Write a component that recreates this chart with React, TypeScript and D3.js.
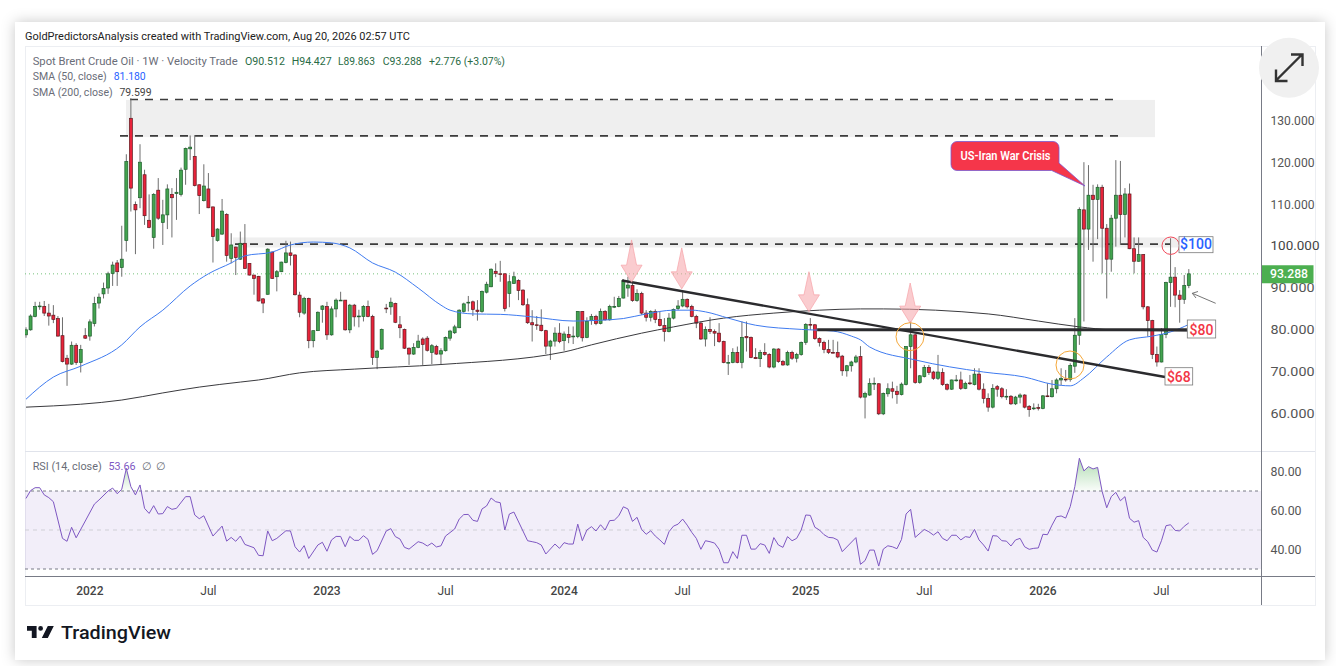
import React, { useEffect, useRef } from "react";
import * as d3 from "d3";

// weekly candles, one value per week
const opens = [
  78.7,79.9,83.1,85.5,85.5,83.9,83.4,82.6,78.5,73.1,
  71.7,76.2,72.1,78.5,78.4,81.4,86.3,88.5,89.9,93.4,
  95.9,94.8,101.25,130.5,109.9,111.5,117,106.1,102,113.3,
  105.6,107.4,112.3,112.5,112.3,118.3,123.2,121.4,114.6,110.8,
  113.6,109.3,101.3,102.8,107.5,97,99.7,96.8,100.6,95.8,
  93,92.7,87.3,88.4,98.5,92.6,93.8,96,98.3,97.8,
  88.2,83.9,87.4,77.3,79.7,84.8,85.5,78.7,84.9,87,
  87,79.9,85.8,83.1,83.1,85.5,83.1,73.3,75.3,85.1,
  85.4,86.2,81.1,80,75.5,74.1,75.7,77.7,77.9,74.5,
  75.9,74.1,74.9,77.9,79.2,80.4,84.3,86.5,86.6,84.6,
  84.3,88.9,90.2,93.9,93.3,93.3,88.6,91,91.7,89.4,
  85.9,81.6,81.1,81,79.7,76,77.2,79.1,77.3,78.8,
  78.3,78.3,84.3,78.1,82.1,83.1,81.4,84.3,82.3,85.5,
  85.5,87.5,89.9,90.5,86.9,88.6,83.9,82.9,84.3,82.4,
  80.9,79.5,82.7,85,85.6,87.2,85.5,83.1,81.5,77.7,
  80,79.5,79.1,77.1,72.1,72.1,74.5,72.1,78.3,78.1,
  73.3,73,74.5,74,71,75.3,72.3,71.5,74.5,73.1,
  74,76.9,81.2,81.1,77.8,76.9,75.2,74.5,74.5,73.6,
  70.1,71.3,72.2,73.5,63.8,64.3,67.1,67,59.8,64.6,
  65.8,65.2,64.4,66.8,75.9,78.7,67.3,68.7,70.9,69.8,
  68.3,69.7,66.8,65.7,67.9,67.9,65.9,67.2,66.8,69.3,
  65.7,63.5,61.4,66.3,65.8,64,64,62.2,63.8,64.3,
  61.6,61.1,61.3,61.1,64.1,63.9,65.8,67.9,68.1,68,
  71.2,78.6,108.6,104,112.1,111.1,114,104.2,96.8,106.6,
  112.1,107.5,112.4,99.3,96.3,97.9,85.4,82.1,74,72.2,
  78.8,91.2,92.5,88.2,87.2,90.512,
];
const closes = [
  79.9,83.2,85.5,85.6,83.9,83.2,82.4,78.4,72.3,71.7,
  76.2,72.1,75.2,77.9,81.8,86.2,87.7,89.8,93.3,95.4,
  93.8,96.8,120.14,113.8,108.6,120,107.2,104.4,112.3,106.6,
  107.4,113.6,111.5,112.8,118.1,123.3,123.6,114.4,112,114.3,
  109.1,102.2,104,108.3,97.7,100.2,97.2,100.6,94.6,93,
  92.2,86.8,86.3,99.2,92.2,93.8,96.1,98.3,97.7,88.3,
  84.1,87.4,77.3,79.7,84.1,85.6,78.7,84.9,87,87,
  79.9,85.8,83,83.2,85.5,83.1,73.3,74.8,80,85,
  86.5,81.7,80.4,75.5,74.1,75.7,77.2,76.4,75,76.1,
  74.1,74.9,78.1,79.6,80.6,84.6,86.1,86.5,84.8,84.3,
  89.1,90.8,94.4,93.4,93.2,85,91.4,92.6,89.3,85.9,
  81.6,81.1,81,79.7,76,77.2,79.1,77.1,78.9,78.1,
  78.4,84.3,78,81.9,83.1,81.4,84.3,82.3,85.5,85.5,
  87.4,91.7,90.6,86.9,88.6,83.9,82.9,84.3,82.4,80.9,
  79.5,82.7,84.8,85.6,87.2,85.4,83.1,81.5,77.7,80,
  79.5,79.1,77.1,72.1,72.1,74.5,72.1,78.1,78,73.3,
  73,74.5,74,71,75.3,72.3,71.5,74.5,73.1,74,
  76.9,81.2,81.1,77.8,76.9,75.2,74.5,74.4,73.4,70.1,
  71.3,72.2,73.4,63.8,64.7,67.1,67.1,59.8,64.7,65.8,
  65.2,64.4,66.9,75.9,78.7,67.3,68.9,70.9,69.7,68.3,
  69.8,66.8,65.7,67.9,67.9,65.9,67.1,67,69.3,65.7,
  63.5,61.4,65.9,65.7,63.9,64,62.2,63.8,64.3,61.4,
  60.8,61.2,61.2,64.1,64,65.8,67.9,68.3,68,71.4,
  78.6,108.7,104,112.1,111.1,114,104.2,96.8,106.6,112.1,
  107.5,112.4,99.3,96.3,97.9,85.4,82.1,74,72.2,78.8,
  91.2,92.5,88.2,87.2,90.5,93.288,
];
const highs = [
  80.5,83.6,86.6,86.6,86.8,86.1,85.8,83.2,82.9,73.9,
  77.1,76.7,76.3,80.3,82.4,87.8,88.6,91.2,93.8,96.2,
  96.6,104.8,121.9,135.3,110.6,124.3,118.2,112.3,112.6,116.2,
  111,114.7,113.8,116.2,118.7,123.5,126.4,126.5,114.7,119.5,
  117.4,109.4,104.2,111.2,107.8,103,99.8,103.4,105.2,95.8,
  93,92.8,87.5,99.4,98.6,94.2,96.2,101.2,101,98,
  89,87.8,87.6,79.7,84.3,85.8,86.6,85.5,87.4,89,
  87,86.1,86.1,84.7,85.8,86.9,83.5,75.1,80.2,86.1,
  87.6,86.4,83.2,80.2,75.7,76.7,78.7,78.1,78.4,76.5,
  76.3,75.5,78.3,79.9,81.1,84.8,86.4,88,86.9,87,
  89.3,91.4,94.6,95.8,96.4,93.4,93,93.8,92,89.6,
  87.4,84.6,83.2,84.8,79.9,77.5,80.5,81.5,79.5,80.7,
  80.7,84.4,84.4,82.9,83.7,83.5,85,84.6,85.9,87.8,
  88,92,92.6,91.4,89.6,89,84.6,84.6,84.8,84.3,
  82.7,83.9,85,87,89,87.4,85.9,83.5,81.9,80.7,
  82.9,80,81.5,77.3,73.9,75.5,75.9,81.9,81.9,78.3,
  75.5,75.1,76.7,74.3,75.5,75.5,72.7,74.9,74.9,74.4,
  77.1,81.5,82.7,81.3,78.1,77.3,77.5,77.5,77.1,73.9,
  71.5,72.5,73.9,76,65.1,68.3,68.5,67.1,64.9,67.1,
  67.5,66.5,67.3,76,81.9,79,69.1,71.5,71.5,70.1,
  73.9,70.7,67.1,68,69.1,69.9,67.5,69.1,70.7,70.7,
  67.1,64.7,66.9,66.7,66.2,65.7,64.3,64.1,64.7,64.5,
  61.9,62.3,62.2,64.3,67.1,67.9,68.3,70.7,70.3,71.9,
  82.7,109.2,120,119.3,114.6,114.7,114.6,105.2,107.4,120.5,
  120.3,113.8,114.9,102,102,98,85.6,82.3,75.9,80.3,
  91.4,101.8,94.9,89.4,93,94.427,
];
const lows = [
  78,79.7,82.9,84.7,83.2,80.9,81.5,78.3,72.1,66.5,
  71.5,71.5,69.7,77.7,77.3,80.7,85,87.4,88.5,90.4,
  90.4,92.6,98.6,108.2,98,109,105,104.2,99.3,106.2,
  100.2,104,102,106.2,111.8,114.6,120.5,114.2,107.6,110.6,
  109,96,101,102.6,96.2,95.8,93,96.6,94.5,92.9,
  88.3,86.7,83.9,88.3,92.1,89.1,93.7,95.8,95.3,88.1,
  82.9,83.5,75.5,75.7,79.6,81.6,77.5,78.5,82.9,86.9,
  79.7,79.1,80.7,80.5,81.9,82.9,71.5,70.5,75.1,83.9,
  83.5,81.5,77.9,75.3,71.5,73.9,75.5,71.5,74.7,71.7,
  73.9,71.7,74.7,77.3,78.9,80.3,84,84.3,83.2,82.1,
  84,88.6,90.1,92.5,91.4,84.3,85.3,90.9,87,85.6,
  81.3,77.1,79.9,79.5,74.1,72.7,75.9,76.7,74.9,76.7,
  76.5,77.9,77.1,77.9,81.1,81,81.2,82.1,82.1,85.1,
  85.3,87.4,87.8,86.6,86.6,83.5,81.9,81.9,81.5,80.7,
  77.1,79.3,82.4,84.6,85.3,85,82.9,80.3,77.5,75.9,
  78.9,76,76.8,71.9,69.1,71.9,71.9,70.7,74.7,73.1,
  72.9,71,73.7,70.7,70.7,72,71.3,71.3,72.7,72.1,
  73.7,76.3,79.9,77.5,75.9,74.3,74.1,74.3,73.1,68.9,
  68.7,69.9,71.9,63.5,58.7,64.1,65.5,59.5,59.5,63.9,
  63.5,62.2,64.2,66.6,70.7,67,67,68.5,69.1,67.9,
  67.9,66.5,65.4,65.5,67.5,65.5,65.7,66.7,66.6,65.4,
  62.3,60.3,61.1,63.9,63.5,63.1,61.9,61.9,62.3,61.1,
  59.1,60.7,60.6,60.9,63.8,63.7,64.7,66.7,67.5,67.5,
  69.6,76.3,81.9,99,96.2,101.6,93.4,87.4,93.8,99.8,
  100.2,102,99.2,93.4,96.2,84.8,78.3,72.9,71.1,72.1,
  77.9,85.4,85.3,81.6,86.1,89.863,
];

// moving averages, sampled where the curve bends
const sma50Weeks = [0,6,12,21,25,30,36,40,45,48,54,58,63,67,71,76,81,86,91,93,98,104,111,120,126,131,136,142,146,149,154,160,170,177,181,183,185,195,210,219,225,229,232,237,242,247,251,255];
const sma50Values = [63.3,68.6,71.2,76.3,80.6,84.6,90.4,93.3,95.9,97.6,98.5,100.2,100.9,100.7,99.5,95.9,93.7,89.9,85.8,84.6,83.7,83.6,83,82,82.2,82.6,83.7,84.6,84.6,84.2,82.7,81,80,79.6,78.4,77.5,75.8,72.7,69.8,68.6,66.9,66.5,68.4,73.4,77.5,78.4,79.4,81.18];
const sma200Weeks = [0,6,12,21,30,38,47,51,60,72,91,118,124,135,142,153,164,174,183,188,211,222,231,238,255];
const sma200Values = [61.4,61.7,62.1,63.1,64.8,66.2,67.4,67.9,69.6,70.5,71.6,74.6,76.3,79.1,80.6,82.7,83.9,84.6,84.9,84.9,83.7,82,80.6,79.9,79.6];

const rsiWeeks = [
  0,1,2,3,4,5,6,8,9,10,11,13,15,16,18,19,20,21,22,23,24,25,26,27,28,29,30,31,32,33,35,36,37,38,39,41,43,44,45,46,47,48,50,51,52,53,54,55,57,58,59,60,61,62,64,65,66,67,68,69,70,71,72,73,74,75,76,77,79,80,81,82,83,84,86,87,88,89,90,91,92,94,95,96,97,98,99,100,101,102,103,104,105,106,107,110,111,112,113,114,116,117,118,119,120,121,122,123,124,125,126,127,128,129,130,131,132,133,134,
  135,136,137,138,139,140,141,142,143,144,145,146,147,148,149,150,151,152,153,154,155,156,157,158,159,160,161,162,163,164,165,166,167,168,169,170,171,172,173,174,175,176,177,178,179,182,183,184,185,186,187,188,189,190,191,192,193,194,195,197,198,199,200,201,202,203,204,205,206,207,208,209,210,211,212,213,214,215,216,217,218,219,220,221,222,223,224,225,226,227,228,229,230,231,232,233,234,235,236,237,238,239,240,241,242,243,244,245,246,247,248,249,250,251,252,253,254,255,
];
const rsiValues = [
  66.2,70.2,71.7,71.7,68,66.6,64.5,45.7,44.2,51.4,46,54.6,63.3,65.4,70,71.5,68.6,70.9,81.6,72.2,68,73.1,61.1,58.5,62.5,58.2,58.4,62,60.6,61.1,67.1,67.1,57.7,55.8,57.3,46.9,52,44.3,46.2,44.2,46.9,42.6,40.9,37,36.8,49.5,44.5,45.7,49.6,49.5,41.4,38.7,42,35.4,42.3,43.7,39.1,44.9,46.7,46.7,41.4,46.7,44.7,44.7,47.1,45.2,37.5,39.4,49.5,50.7,46.6,45.4,41.1,40.2,44,43.3,41.8,43.3,41.3,41.9,46.9,50.5,55.6,57.9,58,55,54.4,60.8,62.3,66.4,64.5,64,50,58.2,59.2,44.5,44,43.5,42.3,37.7,42.8,40.6,43.5,42.8,42.8,53,44.5,50,51.7,49.5,52.7,50,54.8,55,57.3,61.9,60.8,54.4,56.5,
  50.3,47.8,49.6,46.9,44.9,42.6,49.1,52,53,55.6,52.5,48.8,45.7,40.1,44.5,44,43.3,40.1,33.2,33.2,38.9,35.4,47.3,47.3,40.2,40.2,43,42.3,38,46.1,42.3,41.1,46.6,44.5,45.7,50,57.7,57.5,51.4,50,47.6,46.2,46,44.9,38.9,46.1,32.4,34.3,39.7,39.7,31.5,40.2,41.9,41.4,40.4,45.2,58.2,60.6,46.2,50.3,49.1,47.4,49.1,45.7,44.5,47.3,47.3,44.9,46.6,46.2,50.3,44.9,42.3,39.2,47.1,46.9,44.5,44.3,41.8,44.9,45.7,41.4,40.1,40.6,40.8,47.8,47.6,52.5,56.8,57.2,56.1,62,72.2,86.8,80.3,82.5,81.3,82.1,69.7,61.4,67.1,69.3,65,67.1,56,54,54.8,46.2,44,39.7,38.7,44.5,52.2,52.7,49.8,49.5,51.9,53.66,
];

const priceTicks = [130, 120, 110, 100, 90, 80, 70, 60];
const rsiTicks = [80, 60, 40];
const timeTicks = ["2022", "Jul", "2023", "Jul", "2024", "Jul", "2025", "Jul", "2026", "Jul"];
const timeTickWeeks = [14, 40, 66, 92, 118, 144, 171, 197, 223, 249];

// drawn annotations, in week / price terms
const arrowWeeks = [132.8, 143.8, 171.7, 193.9];
const arrowTips = [91.3, 89.7, 84.2, 81.5];
const arrowTops = [101.4, 99.5, 93.8, 91.1];

const FONT = "Roboto, 'Noto Sans', sans-serif";

const App: React.FC = () => {
  const svgRef = useRef<SVGSVGElement | null>(null);

  useEffect(() => {
    const svg = d3.select(svgRef.current);
    svg.selectAll("*").remove();

    const right = 1261;
    const x = d3.scaleLinear().domain([0, 255]).range([26, 26 + 4.56 * 255]);
    const y = d3.scaleLinear().domain([60, 130]).range([413, 120.4]);
    const yRsi = d3.scaleLinear().domain([30, 70]).range([569, 491]);

    const defs = svg.append("defs");
    const shadow = defs.append("filter").attr("id", "card").attr("x", "-5%").attr("y", "-8%").attr("width", "110%").attr("height", "116%");
    shadow.append("feDropShadow").attr("dx", 0).attr("dy", 0).attr("stdDeviation", 7).attr("flood-color", "#000").attr("flood-opacity", 0.22);
    defs.append("clipPath").attr("id", "plot").append("rect").attr("x", 25).attr("y", 47).attr("width", right - 25).attr("height", 404);
    defs.append("clipPath").attr("id", "ob").append("rect").attr("x", 25).attr("y", 452).attr("width", right - 25).attr("height", yRsi(70) - 452);
    const grad = defs.append("linearGradient").attr("id", "obFill").attr("gradientUnits", "userSpaceOnUse").attr("x1", 0).attr("x2", 0).attr("y1", 458).attr("y2", yRsi(70));
    grad.append("stop").attr("offset", "0%").attr("stop-color", "#4caf50").attr("stop-opacity", 0.45);
    grad.append("stop").attr("offset", "100%").attr("stop-color", "#4caf50").attr("stop-opacity", 0.03);

    svg.append("rect").attr("x", 15).attr("y", 22).attr("width", 1310).attr("height", 638).attr("fill", "#fff").attr("filter", "url(#card)");
    svg.append("rect").attr("x", 25.5).attr("y", 46.5).attr("width", 1290).attr("height", 559).attr("fill", "#fff").attr("stroke", "#eceef2");

    const label = (str: string, px: number, py: number, o: any = {}) =>
      svg
        .append("text")
        .attr("x", px)
        .attr("y", py)
        .attr("font-family", FONT)
        .attr("font-size", o.size ?? 11)
        .attr("font-weight", o.weight ?? 400)
        .attr("fill", o.fill ?? "#666")
        .attr("text-anchor", o.anchor ?? "start")
        .attr("textLength", o.len ?? null)
        .attr("lengthAdjust", o.len ? "spacingAndGlyphs" : null)
        .text(str);

    // supply zones and their dashed edges
    const plot = svg.append("g").attr("clip-path", "url(#plot)");
    plot.append("rect").attr("x", 126).attr("y", y(134.9)).attr("width", 1155 - 126).attr("height", y(126) - y(134.9)).attr("fill", "#efefef");
    plot.append("rect").attr("x", 233).attr("y", y(102)).attr("width", 1178 - 233).attr("height", y(99.6) - y(102)).attr("fill", "#efefef");
    const dashed = [
      [130, 1120, 135],
      [120, 1120, 126.3],
      [235, 1170, 100.4],
    ];
    dashed.forEach(([a, b, p]) => {
      plot.append("line").attr("x1", a).attr("x2", b).attr("y1", y(p)).attr("y2", y(p)).attr("stroke", "#3c3c3c").attr("stroke-width", 1.6).attr("stroke-dasharray", "8,7");
    });

    // last price dotted line
    plot.append("line").attr("x1", 25).attr("x2", right).attr("y1", y(93.288)).attr("y2", y(93.288)).attr("stroke", "#66bb6a").attr("stroke-opacity", 0.9).attr("stroke-dasharray", "1,3");

    // candles
    const candle = plot.selectAll(".candle").data(opens).enter().append("g").attr("class", "candle");
    candle
      .append("line")
      .attr("x1", (_, i) => x(i))
      .attr("x2", (_, i) => x(i))
      .attr("y1", (_, i) => y(highs[i]))
      .attr("y2", (_, i) => y(lows[i]))
      .attr("stroke", "#6e6e6e")
      .attr("stroke-width", 1);
    candle
      .append("rect")
      .attr("x", (_, i) => x(i) - 1.5)
      .attr("width", 3)
      .attr("y", (d, i) => y(Math.max(d, closes[i])))
      .attr("height", (d, i) => Math.max(0.8, Math.abs(y(d) - y(closes[i]))))
      .attr("fill", (d, i) => (closes[i] >= d ? "#43a34f" : "#e8233a"))
      .attr("stroke", (d, i) => (closes[i] >= d ? "#1d5e2c" : "#5e1a20"))
      .attr("stroke-width", 0.7);

    // moving averages
    const curve = d3.line<number>().curve(d3.curveMonotoneX);
    plot
      .append("path")
      .attr("d", curve.x((w) => x(w)).y((_, i) => y(sma200Values[i]))(sma200Weeks))
      .attr("fill", "none")
      .attr("stroke", "#3a3a3e")
      .attr("stroke-width", 1);
    plot
      .append("path")
      .attr("d", curve.x((w) => x(w)).y((_, i) => y(sma50Values[i]))(sma50Weeks))
      .attr("fill", "none")
      .attr("stroke", "#3f7bf0")
      .attr("stroke-width", 1);

    // trendlines
    plot.append("line").attr("x1", x(130.7)).attr("y1", y(91.7)).attr("x2", x(249.8)).attr("y2", y(68.6)).attr("stroke", "#2b2b2e").attr("stroke-width", 2.4);
    plot.append("line").attr("x1", x(173.5)).attr("y1", y(79.9)).attr("x2", x(254.6)).attr("y2", y(79.9)).attr("stroke", "#2b2b2e").attr("stroke-width", 3);

    // pink arrows
    arrowWeeks.forEach((w, i) => {
      const cx = x(w);
      const tip = y(arrowTips[i]);
      const top = y(arrowTops[i]);
      const neck = tip - 17;
      plot
        .append("path")
        .attr("d", `M${cx},${top}L${cx + 5},${neck}L${cx + 10.5},${neck}L${cx},${tip}L${cx - 10.5},${neck}L${cx - 5},${neck}Z`)
        .attr("fill", "#f6a3a8")
        .attr("fill-opacity", 0.55)
        .attr("stroke", "#f6a3a8")
        .attr("stroke-opacity", 0.7);
    });

    // circles
    const circles = [
      [910, 336.7, 14, "#f5a83a"],
      [1070, 365, 14, "#f5a83a"],
      [1170.7, 245.7, 8.7, "#f2495a"],
    ];
    circles.forEach(([cx, cy, r, c]) => {
      svg.append("circle").attr("cx", cx as number).attr("cy", cy as number).attr("r", r as number).attr("fill", "none").attr("stroke", c as string).attr("stroke-width", 1);
    });

    // callout
    svg
      .append("path")
      .attr("d", "M957,141.5H1053a6,6 0 0 1 6,6V163L1085,186L1051.7,170.5H957a6,6 0 0 1 -6,-6V147.5a6,6 0 0 1 6,-6Z")
      .attr("fill", "#f5364a")
      .attr("stroke", "#7a5bd0")
      .attr("stroke-width", 0.8);
    label("US-Iran War Crisis", 1005.5, 160, { size: 12, weight: 600, fill: "#fff", anchor: "middle", len: 90 });

    // price boxes
    const boxes: [string, number, number, number, number, string][] = [
      ["$100", 1179, 236.7, 34, 16, "#2962ff"],
      ["$80", 1187.3, 320, 28.4, 18, "#f23645"],
      ["$68", 1165, 367.7, 27.7, 17.3, "#f23645"],
    ];
    boxes.forEach(([t, bx, by, bw, bh, c]) => {
      svg.append("rect").attr("x", bx).attr("y", by).attr("width", bw).attr("height", bh).attr("fill", "#fff").attr("stroke", "#7a7a7a").attr("stroke-width", 0.8);
      label(t, bx + bw / 2, by + bh - 3.5, { size: 14, weight: 500, fill: c, anchor: "middle" });
    });

    // small pointer arrow
    svg.append("path").attr("d", "M1215.7,303.3L1192.3,293.3M1192.3,293.3L1198,291.5M1192.3,293.3L1196,298").attr("fill", "none").attr("stroke", "#666").attr("stroke-width", 0.9);

    // rsi pane
    svg.append("line").attr("x1", 25).attr("x2", 1315).attr("y1", 451.5).attr("y2", 451.5).attr("stroke", "#e0e3eb");
    svg.append("rect").attr("x", 25).attr("y", yRsi(70)).attr("width", right - 25).attr("height", yRsi(30) - yRsi(70)).attr("fill", "#7e57c2").attr("fill-opacity", 0.1);
    [70, 30].forEach((v) => {
      svg.append("line").attr("x1", 25).attr("x2", right).attr("y1", yRsi(v)).attr("y2", yRsi(v)).attr("stroke", "#787b86").attr("stroke-dasharray", "3,3");
    });
    svg.append("line").attr("x1", 25).attr("x2", right).attr("y1", yRsi(50)).attr("y2", yRsi(50)).attr("stroke", "#cfcfd6").attr("stroke-dasharray", "4,4");
    const obArea = d3
      .area<number>()
      .x((w) => x(w))
      .y0(yRsi(70))
      .y1((_, i) => yRsi(rsiValues[i]));
    svg.append("path").attr("clip-path", "url(#ob)").attr("d", obArea(rsiWeeks)).attr("fill", "url(#obFill)");
    svg
      .append("path")
      .attr("d", d3.line<number>().x((w) => x(w)).y((_, i) => yRsi(rsiValues[i]))(rsiWeeks))
      .attr("fill", "none")
      .attr("stroke", "#7e57c2")
      .attr("stroke-width", 1);

    // axes
    svg.append("line").attr("x1", 25).attr("x2", 1315).attr("y1", 576.5).attr("y2", 576.5).attr("stroke", "#787b86");
    svg.append("line").attr("x1", right + 0.5).attr("x2", right + 0.5).attr("y1", 46).attr("y2", 605).attr("stroke", "#787b86");

    priceTicks.forEach((p) => {
      label(p.toFixed(3), 1270.5, y(p) + 4.6, { size: 12, fill: p === 100 ? "#444" : "#555", len: p === 100 ? 49 : 44 });
    });
    rsiTicks.forEach((r) => {
      label(r.toFixed(2), 1270.5, yRsi(r) + 4.4, { size: 12, fill: "#555", len: 31 });
    });
    timeTicks.forEach((t, i) => {
      const year = t !== "Jul";
      label(t, x(timeTickWeeks[i]), 595, { size: 12, weight: year ? 500 : 400, fill: "#444", anchor: "middle" });
    });

    // last price tag
    svg.append("rect").attr("x", 1262).attr("y", y(93.288) - 8.6).attr("width", 51.5).attr("height", 18).attr("fill", "#4caf50");
    label("93.288", 1270, y(93.288) + 4.5, { size: 12, weight: 500, fill: "#fff", len: 38 });

    // titles and legend
    label("GoldPredictorsAnalysis created with TradingView.com, Aug 20, 2026 02:57 UTC", 25, 40, { size: 11.5, fill: "#222", len: 385 });
    label("Spot Brent Crude Oil · 1W · Velocity Trade", 32.7, 65, { fill: "#6a6d78", len: 205 });
    const ohlc = "#2a6b45";
    label("O90.512", 245, 65, { fill: ohlc, len: 40 });
    label("H94.427", 291.7, 65, { fill: ohlc, len: 40 });
    label("L89.863", 338, 65, { fill: ohlc, len: 37 });
    label("C93.288", 382.7, 65, { fill: ohlc, len: 39 });
    label("+2.776 (+3.07%)", 429, 65, { fill: ohlc, len: 76 });
    label("SMA (50, close)", 32.7, 80, { fill: "#6a6d78", len: 74 });
    label("81.180", 113.7, 80, { fill: "#2962ff", len: 32 });
    label("SMA (200, close)", 32.7, 96, { fill: "#6a6d78", len: 80 });
    label("79.599", 119.5, 96, { fill: "#444", len: 32 });
    label("RSI (14, close)", 32.7, 470, { fill: "#6a6d78", len: 69 });
    label("53.66", 108.5, 470, { fill: "#7e57c2", len: 27 });
    label("∅", 142, 470, { fill: "#6a6d78" });
    label("∅", 156, 470, { fill: "#6a6d78" });

    // expand button
    svg.append("circle").attr("cx", 1289).attr("cy", 67.7).attr("r", 30).attr("fill", "#f0f0f0");
    svg
      .append("path")
      .attr("d", "M1276,80.5L1302,54.5M1291,54.5H1302.5V66M1276,69.5V81H1287.5")
      .attr("fill", "none")
      .attr("stroke", "#333")
      .attr("stroke-width", 2.4);

    // logo
    svg
      .append("path")
      .attr("transform", "translate(25.4,621.2) scale(0.8)")
      .attr("d", "M14 6H2v6h6v9h6V6zm14 15h-7.5L28 6h7.5L28 21zm-6-12a3 3 0 1 1-6 0 3 3 0 0 1 6 0z")
      .attr("fill", "#131722");
    label("TradingView", 61, 638.5, { size: 19, weight: 500, fill: "#131722", len: 110 });
  }, []);

  return <svg ref={svgRef} width={1336} height={666} style={{ position: "absolute", left: 0, top: 0, display: "block" }} />;
};

export default App;
